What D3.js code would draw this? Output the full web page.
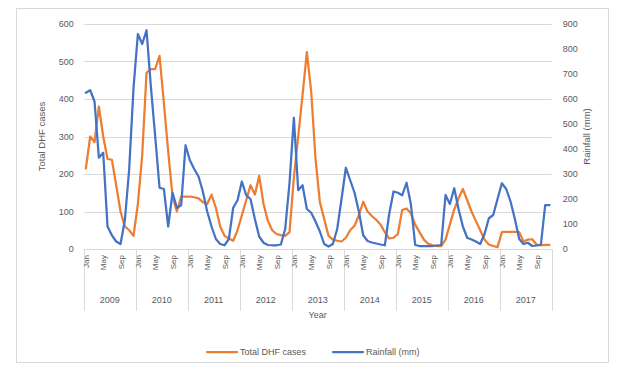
<!DOCTYPE html>
<html>
<head>
<meta charset="utf-8">
<script src="https://cdn.jsdelivr.net/npm/d3@7"></script>
<style>
  html, body { margin: 0; padding: 0; background: #fff; }
  svg { display: block; font-family: "Liberation Sans", "DejaVu Sans", sans-serif; }
</style>
</head>
<body>
<svg id="chart" width="620" height="367"></svg>
<script>
// Monthly dengue haemorrhagic fever cases and rainfall, 2009–2017
const years = ["2009", "2010", "2011", "2012", "2013", "2014", "2015", "2016", "2017"];
const months = ["Jan", "Feb", "Mar", "Apr", "May", "Jun", "Jul", "Aug", "Sep", "Oct", "Nov", "Dec"];
const shownMonths = ["Jan", "May", "Sep"];
const leftTicks = [0, 100, 200, 300, 400, 500, 600];
const rightTicks = [0, 100, 200, 300, 400, 500, 600, 700, 800, 900];

const dhfCases = [
  215, 300, 285, 380, 300, 240, 238, 170, 100, 60, 50, 35,   // 2009
  120, 250, 470, 480, 480, 515, 390, 260, 140, 100, 140, 140, // 2010
  140, 138, 135, 125, 120, 145, 110, 60, 35, 28, 22, 50,      // 2011
  90, 130, 170, 145, 195, 120, 75, 50, 40, 37, 35, 45,        // 2012
  190, 300, 410, 525, 420, 240, 125, 80, 35, 25, 22, 20,      // 2013
  30, 50, 62, 90, 126, 100, 88, 78, 65, 45, 28, 30,           // 2014
  40, 104, 108, 95, 65, 45, 25, 14, 10, 8, 8, 25,             // 2015
  65, 105, 135, 160, 130, 100, 75, 50, 25, 12, 8, 5,          // 2016
  45, 46, 46, 46, 45, 20, 25, 26, 12, 10, 11, 11              // 2017
];

const rainfallMm = [
  625, 635, 590, 365, 385, 90, 55, 30, 20, 115, 320, 645,     // 2009
  860, 820, 875, 650, 450, 245, 240, 90, 225, 165, 175, 415,  // 2010
  355, 320, 290, 230, 150, 90, 40, 20, 15, 40, 165, 195,      // 2011
  270, 215, 200, 120, 50, 25, 16, 15, 15, 18, 80, 265,        // 2012
  525, 235, 255, 160, 145, 110, 70, 20, 10, 20, 80, 200,      // 2013
  325, 275, 225, 150, 55, 32, 26, 22, 18, 15, 140, 230,       // 2014
  225, 215, 265, 180, 16, 12, 12, 12, 12, 14, 16, 216,        // 2015
  180, 243, 160, 90, 45, 38, 30, 20, 60, 123, 136, 200,       // 2016
  263, 240, 190, 120, 40, 20, 25, 12, 14, 16, 176, 176        // 2017
];

const periods = [];
years.forEach(y => months.forEach(m => periods.push({ year: y, month: m, key: y + "-" + m })));
periods.forEach((p, i) => { p.dhf = dhfCases[i]; p.rain = rainfallMm[i]; });

const ORANGE = "#ED7D31", BLUE = "#4472C4", GRID = "#d9d9d9", TEXT = "#595959";
const svg = d3.select("#chart");

// chart frame
svg.append("rect").attr("x", 16.5).attr("y", 8.5).attr("width", 592).attr("height", 354)
  .attr("fill", "#fff").attr("stroke", GRID);

const plot = { left: 83.7, right: 551.7, top: 24, bottom: 249 };

const x = d3.scaleBand().domain(periods.map(p => p.key)).range([plot.left, plot.right]);
const cx = k => x(k) + x.bandwidth() / 2;
const yL = d3.scaleLinear().domain([0, 600]).range([plot.bottom, plot.top]);
const yR = d3.scaleLinear().domain([0, 900]).range([plot.bottom, plot.top]);

// horizontal gridlines
svg.append("g").selectAll("line").data(leftTicks.filter(t => t > 0)).join("line")
  .attr("x1", plot.left).attr("x2", plot.right)
  .attr("y1", d => Math.round(yL(d)) + 0.5).attr("y2", d => Math.round(yL(d)) + 0.5)
  .attr("stroke", GRID).attr("stroke-width", 1);

// left axis
const axL = d3.axisLeft(yL).tickValues(leftTicks).tickSize(0).tickPadding(10);
const gL = svg.append("g").attr("transform", `translate(${plot.left},0)`).call(axL);
gL.select(".domain").remove();
gL.selectAll("text").attr("fill", TEXT).style("font-size", "9px");

// right axis
const axR = d3.axisRight(yR).tickValues(rightTicks).tickSize(0).tickPadding(11);
const gR = svg.append("g").attr("transform", `translate(${plot.right},0)`).call(axR);
gR.select(".domain").remove();
gR.selectAll("text").attr("fill", TEXT).style("font-size", "9px");

// category axis line
svg.append("line").attr("x1", plot.left).attr("x2", plot.right)
  .attr("y1", plot.bottom + 0.5).attr("y2", plot.bottom + 0.5).attr("stroke", GRID);

// year group separators
const yearStart = years.map(y => x(y + "-Jan"));
yearStart.push(plot.right);
svg.append("g").selectAll("line").data(yearStart).join("line")
  .attr("x1", d => Math.round(d) + 0.5).attr("x2", d => Math.round(d) + 0.5)
  .attr("y1", plot.bottom).attr("y2", 311).attr("stroke", GRID);

// month labels (rotated)
svg.append("g").selectAll("text").data(periods.filter(p => shownMonths.includes(p.month))).join("text")
  .attr("transform", p => `translate(${cx(p.key) + 3},255) rotate(-90)`)
  .attr("text-anchor", "end").attr("fill", TEXT).style("font-size", "8px")
  .text(p => p.month);

// year labels
svg.append("g").selectAll("text").data(years).join("text")
  .attr("x", y => (x(y + "-Jan") + x(y + "-Dec") + x.bandwidth()) / 2)
  .attr("y", 303).attr("text-anchor", "middle").attr("fill", TEXT).style("font-size", "9px")
  .text(y => y);

// axis titles
svg.append("text").attr("x", (plot.left + plot.right) / 2).attr("y", 318)
  .attr("text-anchor", "middle").attr("fill", TEXT).style("font-size", "9px").text("Year");
svg.append("text").attr("transform", `translate(45,${(plot.top + plot.bottom) / 2}) rotate(-90)`)
  .attr("text-anchor", "middle").attr("fill", TEXT).style("font-size", "9.5px").text("Total DHF cases");
svg.append("text").attr("transform", `translate(590,${(plot.top + plot.bottom) / 2}) rotate(-90)`)
  .attr("text-anchor", "middle").attr("fill", TEXT).style("font-size", "9.5px").text("Rainfall (mm)");

// series
const lineDhf = d3.line().x(p => cx(p.key)).y(p => yL(p.dhf));
const lineRain = d3.line().x(p => cx(p.key)).y(p => yR(p.rain));
svg.append("path").datum(periods).attr("d", lineDhf)
  .attr("fill", "none").attr("stroke", ORANGE).attr("stroke-width", 2.25)
  .attr("stroke-linejoin", "round").attr("stroke-linecap", "round");
svg.append("path").datum(periods).attr("d", lineRain)
  .attr("fill", "none").attr("stroke", BLUE).attr("stroke-width", 2.25)
  .attr("stroke-linejoin", "round").attr("stroke-linecap", "round");

// legend
const legend = [
  { name: "Total DHF cases", color: ORANGE, x: 207 },
  { name: "Rainfall (mm)", color: BLUE, x: 333 }
];
const lg = svg.append("g").selectAll("g").data(legend).join("g")
  .attr("transform", d => `translate(${d.x},352)`);
lg.append("line").attr("x1", 0).attr("x2", 30).attr("y1", 0).attr("y2", 0)
  .attr("stroke", d => d.color).attr("stroke-width", 2.25).attr("stroke-linecap", "round");
lg.append("text").attr("x", 33).attr("y", 3).attr("fill", TEXT).style("font-size", "9px")
  .text(d => d.name);
</script>
</body>
</html>
